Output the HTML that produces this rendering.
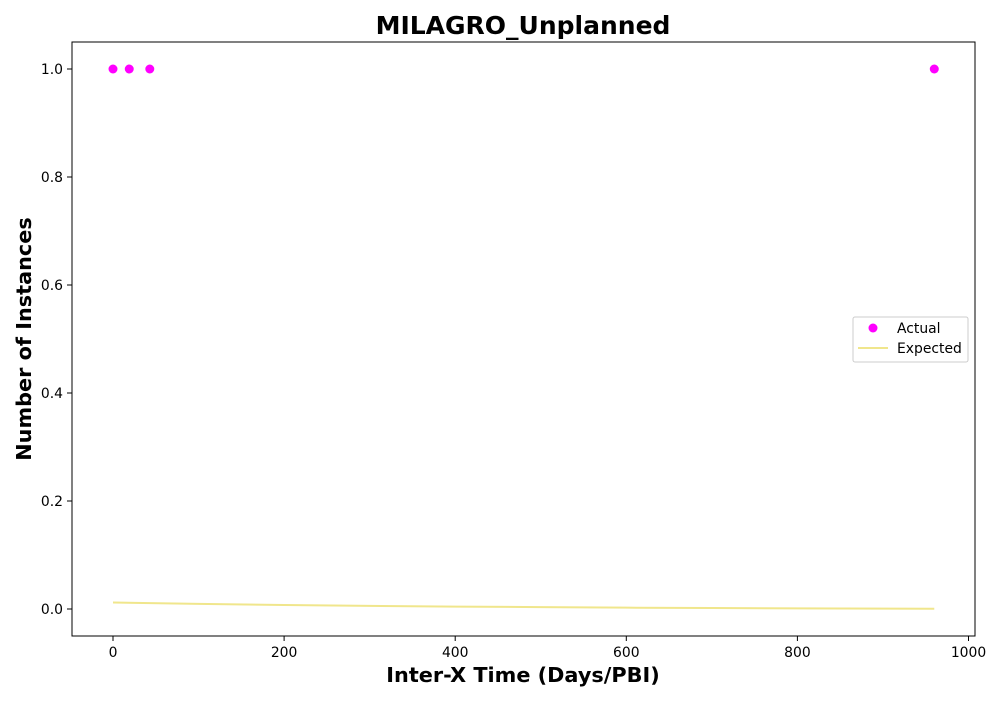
<!DOCTYPE html>
<html><head><meta charset="utf-8"><style>
body{margin:0;background:#fff;}
svg text{font-family:"DejaVu Sans","Liberation Sans",sans-serif;}
</style></head><body>
<svg id="chart" width="1000" height="700" xmlns="http://www.w3.org/2000/svg">
<rect width="1000" height="700" fill="#fff"/>
<text x="523" y="34" text-anchor="middle" font-size="25" font-weight="bold">MILAGRO_Unplanned</text>
<text x="523" y="682" text-anchor="middle" font-size="20.8" font-weight="bold">Inter-X Time (Days/PBI)</text>
<text transform="translate(31,339) rotate(-90)" text-anchor="middle" font-size="20.8" font-weight="bold">Number of Instances</text>
<g id="ticks"></g>
<g id="marks"></g>
<rect x="72" y="42" width="903" height="594" fill="none" stroke="#000" stroke-width="1"/>
<g>
<rect x="853" y="317" width="115" height="45" fill="#fff" stroke="#ccc" rx="2"/>
<circle cx="873" cy="328" r="4.5" fill="#ff00ff"/>
<text x="897" y="333" font-size="13.9">Actual</text>
<line x1="858" y1="348" x2="888" y2="348" stroke="#f0e68c" stroke-width="2"/>
<text x="897" y="353" font-size="13.9">Expected</text>
</g>
</svg>
<script>
const actualX=[0,19,43,960];
const actualY=[1,1,1,1];
const expectedX=[0,100,200,300,400,500,600,700,800,960];
const expectedY=[0.012,0.0095,0.0075,0.0058,0.0045,0.0035,0.0025,0.0018,0.0012,0.0005];
const xTicks=[0,200,400,600,800,1000];
const yTicks=[0.0,0.2,0.4,0.6,0.8,1.0];
const NS="http://www.w3.org/2000/svg";
const sx=v=>113+v*0.8555;
const sy=v=>609-v*540;
const tg=document.getElementById('ticks'),mg=document.getElementById('marks');
function mk(t,a,p){const e=document.createElementNS(NS,t);for(const k in a)e.setAttribute(k,a[k]);p.appendChild(e);return e;}
xTicks.forEach(v=>{
 const l=mk('line',{x1:sx(v),x2:sx(v),y1:636,y2:641,stroke:'#000'},tg);
 
 
 const t=mk('text',{x:sx(v),y:657,'text-anchor':'middle','font-size':13.9},tg);t.textContent=v;
 
 
});
yTicks.forEach(v=>{
 const l=mk('line',{x1:67,x2:72,y1:sy(v),y2:sy(v),stroke:'#000'},tg);
 
 
 const t=mk('text',{x:63,y:sy(v)+5,'text-anchor':'end','font-size':13.9},tg);t.textContent=v.toFixed(1);
 
 
});
const pl=mk('polyline',{points:expectedX.map((x,i)=>sx(x)+','+sy(expectedY[i])).join(' '),fill:'none',stroke:'#f0e68c','stroke-width':2},mg);


actualX.forEach((x,i)=>{
 const c=mk('circle',{cx:sx(x),cy:sy(actualY[i]),r:4.5,fill:'#ff00ff'},mg);
 
 
});
</script>
</body></html>
